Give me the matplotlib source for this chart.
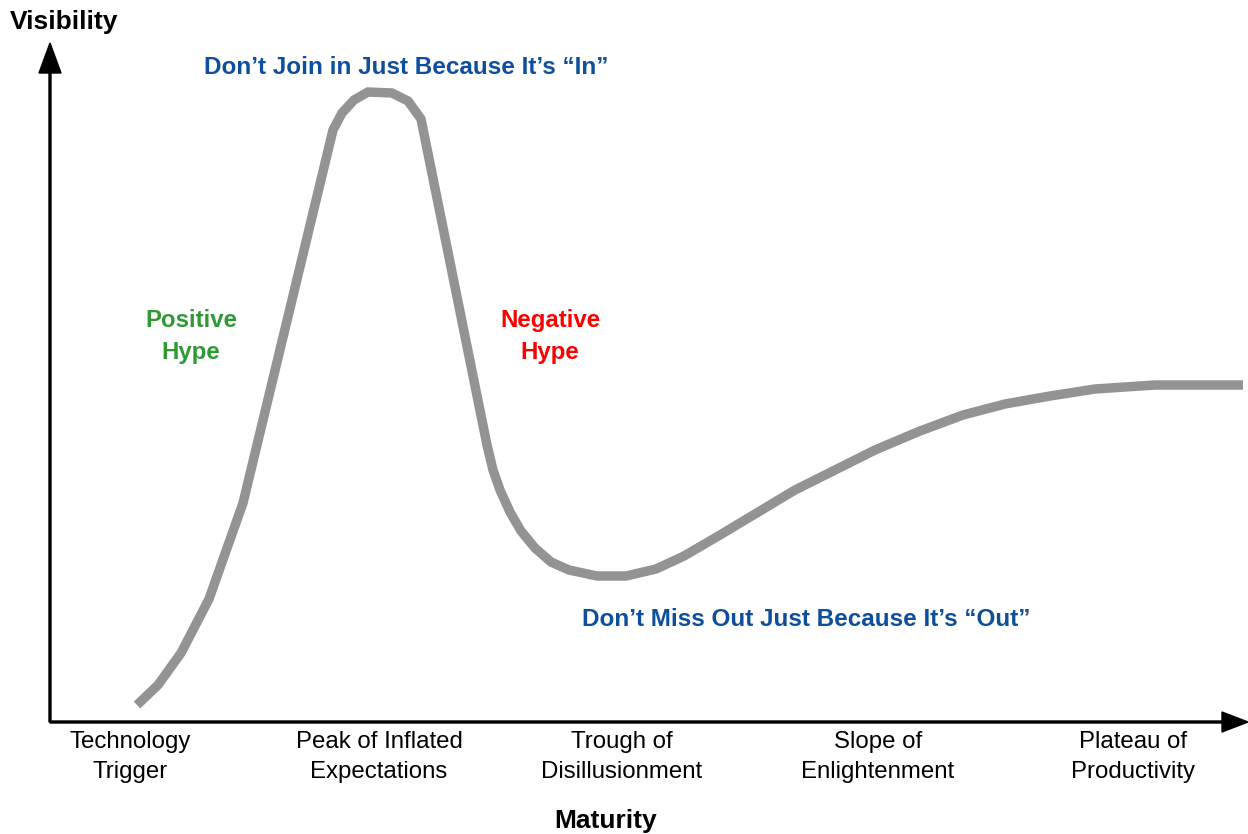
#!/usr/bin/env python3
"""Hype cycle sketch: visibility against maturity."""

import matplotlib
matplotlib.use('Agg')
import matplotlib.pyplot as plt

plt.rcParams['font.family'] = ['Liberation Sans', 'DejaVu Sans']

# Curve (maturity, visibility), origin at the axis corner
maturity = [87, 108, 131, 159, 193, 283, 292, 304, 318, 342, 358, 371,
            437, 443, 450, 460, 471, 485, 501, 519, 547, 576, 606, 634,
            670, 710, 745, 785, 825, 870, 913, 955, 1000, 1045, 1105, 1193]
visibility = [17, 37, 69, 123, 219, 592, 609, 622, 630, 629, 621, 603,
              277, 252, 232, 210, 191, 174, 160, 152, 146, 146, 153, 166,
              187, 211, 232, 252, 272, 291, 307, 318, 326, 333, 337, 337]

stages = ['Technology\nTrigger', 'Peak of Inflated\nExpectations',
          'Trough of\nDisillusionment', 'Slope of\nEnlightenment',
          'Plateau of\nProductivity']
stage_x = [80, 329, 572, 828, 1083]

BLUE = '#0d4f9c'
GREEN = '#2f9a35'
RED = '#ff0000'

fig = plt.figure(figsize=(12.48, 8.34), dpi=100)
ax = fig.add_axes([0, 0, 1, 1])
ax.set_xlim(-50, 1198)
ax.set_ylim(-112, 722)
ax.axis('off')

# Axes with arrow heads
ax.arrow(0, 0, 0, 679, width=2, head_width=22, head_length=30,
         length_includes_head=True, color='black')
ax.arrow(0, 0, 1198, 0, width=2, head_width=20, head_length=26,
         length_includes_head=True, color='black')

ax.plot(maturity, visibility, color='#939393', linewidth=6.8,
        solid_capstyle='butt', solid_joinstyle='miter')

ax.text(14, 700, 'Visibility', ha='center', va='center',
        fontsize=19, fontweight='bold')
ax.text(556, -99, 'Maturity', ha='center', va='center',
        fontsize=19, fontweight='bold')

for x, label in zip(stage_x, stages):
    ax.text(x, -35, label, ha='center', va='center', fontsize=17.3,
            linespacing=1.5)

ax.text(356, 655, 'Don\u2019t Join in Just Because It\u2019s \u201cIn\u201d',
        ha='center', va='center', fontsize=17.5, fontweight='bold', color=BLUE)
ax.text(756, 103, 'Don\u2019t Miss Out Just Because It\u2019s \u201cOut\u201d',
        ha='center', va='center', fontsize=17.5, fontweight='bold', color=BLUE)
ax.text(141, 386, 'Positive\nHype', ha='center', va='center',
        fontsize=17.3, fontweight='bold', color=GREEN, linespacing=1.5)
ax.text(500, 386, 'Negative\nHype', ha='center', va='center',
        fontsize=17.3, fontweight='bold', color=RED, linespacing=1.5)

fig.savefig('out.png', dpi=100)
plt.close(fig)
